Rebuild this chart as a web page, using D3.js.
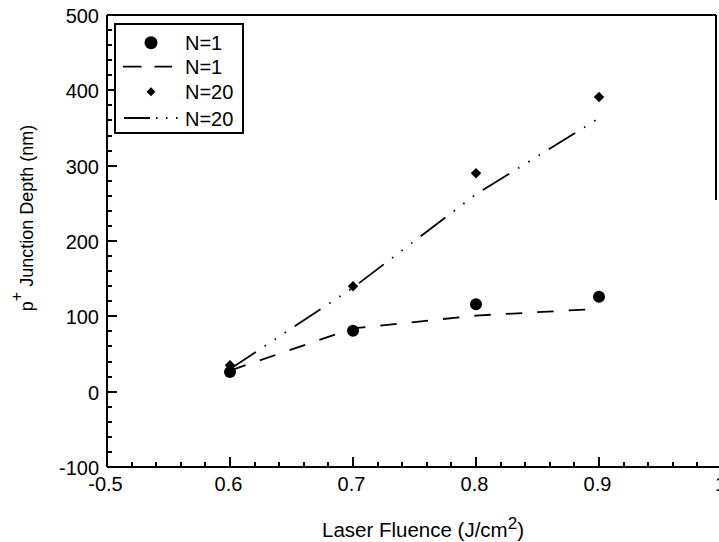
<!DOCTYPE html>
<html>
<head>
<meta charset="utf-8">
<script src="https://cdn.jsdelivr.net/npm/d3@7"></script>
<style>
  html, body { margin: 0; padding: 0; background: #fff; }
  svg { display: block; }
  text { font-family: "Liberation Sans", Arial, Helvetica, sans-serif; fill: #000; }
</style>
</head>
<body>
<svg id="chart" width="719" height="542"></svg>
<script>
// Laser fluence (J/cm^2) at which samples were measured
const fluence = [0.6, 0.7, 0.8, 0.9];
// Measured p+ junction depth (nm)
const depthN1 = [26, 81, 116, 126];
const depthN20 = [35, 140, 290, 391];
// Trend lines through each series (nm)
const fitN1 = [28, 84, 101, 110];
const fitN20 = [30, 138, 262, 363];

// Axis ticks and labels
const xTicks = [0.5, 0.6, 0.7, 0.8, 0.9, 1.0];
const xTickLabels = ["-0.5", "0.6", "0.7", "0.8", "0.9", "1"];
const xMinorTicks = d3.range(0, 26).map(i => 0.5 + i * 0.02);
const yTicks = [-100, 0, 100, 200, 300, 400, 500];
const yMinorTicks = d3.range(0, 31).map(i => -100 + i * 20);
const legendLabels = ["N=1", "N=1", "N=20", "N=20"];

const svg = d3.select("#chart");
const plot = { left: 107, top: 15, bottom: 467, right: 722 };

const x = d3.scaleLinear().domain([0.5, 1.0]).range([plot.left, plot.right]);
const y = d3.scaleLinear().domain([-100, 500]).range([plot.bottom, plot.top]);

const FONT = 20;
const dashN1 = "16.5,15";
const dashN20 = "31,10.5,1.5,10.5,1.5,10.5,1.5,10.5";

const frame = svg.append("g").attr("stroke", "#000").attr("fill", "none")
  .attr("stroke-width", 2).attr("shape-rendering", "crispEdges");

// Frame: top edge and the right edge
const rightEdge = Math.round(x(0.995));
frame.append("line")
  .attr("x1", plot.left).attr("x2", rightEdge)
  .attr("y1", plot.top).attr("y2", plot.top);
frame.append("line")
  .attr("x1", rightEdge).attr("x2", rightEdge)
  .attr("y1", plot.top).attr("y2", Math.round(y(255)));

// Axis lines
frame.append("line")
  .attr("x1", plot.left).attr("x2", plot.right)
  .attr("y1", plot.bottom).attr("y2", plot.bottom);
frame.append("line")
  .attr("x1", plot.left).attr("x2", plot.left)
  .attr("y1", plot.top).attr("y2", plot.bottom);

// Inward ticks on the x axis (minor every 0.02, major every 0.1)
const isMajorX = v => xTicks.some(t => Math.abs(t - v) < 1e-6);
frame.selectAll("line.xtick").data(xMinorTicks).enter().append("line")
  .attr("class", "xtick")
  .attr("x1", d => Math.round(x(d))).attr("x2", d => Math.round(x(d)))
  .attr("y1", plot.bottom).attr("y2", d => plot.bottom - (isMajorX(d) ? 10 : 5));

// Inward ticks on the y axis (minor every 20, major every 100)
const isMajorY = v => yTicks.some(t => Math.abs(t - v) < 1e-6);
frame.selectAll("line.ytick").data(yMinorTicks).enter().append("line")
  .attr("class", "ytick")
  .attr("x1", plot.left).attr("x2", d => plot.left + (isMajorY(d) ? 10 : 5))
  .attr("y1", d => Math.round(y(d))).attr("y2", d => Math.round(y(d)));

// Tick labels
svg.selectAll("text.xl").data(xTicks).enter().append("text")
  .attr("class", "xl")
  .attr("x", d => x(d) - 1.5).attr("y", plot.bottom + 23.5)
  .attr("text-anchor", "middle").attr("font-size", FONT)
  .text((d, i) => xTickLabels[i]);
svg.selectAll("text.yl").data(yTicks).enter().append("text")
  .attr("class", "yl")
  .attr("x", plot.left - 8).attr("y", d => y(d) + 8)
  .attr("text-anchor", "end").attr("font-size", FONT)
  .text(d => d);

// Trend lines
const lineGen = vals => d3.line().x((d, i) => x(fluence[i])).y(d => y(d))(vals);
svg.append("path").attr("d", lineGen(fitN1))
  .attr("fill", "none").attr("stroke", "#000").attr("stroke-width", 1.8)
  .attr("stroke-dasharray", dashN1);
svg.append("path").attr("d", lineGen(fitN20))
  .attr("fill", "none").attr("stroke", "#000").attr("stroke-width", 1.8)
  .attr("stroke-dasharray", dashN20);

// Data markers
const diamond = d3.symbol().type(d3.symbolDiamond2).size(70);
svg.selectAll("path.m20").data(depthN20).enter().append("path")
  .attr("class", "m20")
  .attr("transform", (d, i) => `translate(${x(fluence[i])},${y(d)})`)
  .attr("d", diamond).attr("fill", "#000");
svg.selectAll("circle.m1").data(depthN1).enter().append("circle")
  .attr("class", "m1")
  .attr("cx", (d, i) => x(fluence[i])).attr("cy", d => y(d))
  .attr("r", 6).attr("fill", "#000");

// Legend
const lg = svg.append("g");
lg.append("rect").attr("x", 115).attr("y", 24).attr("width", 128).attr("height", 109)
  .attr("fill", "#fff").attr("stroke", "#000").attr("stroke-width", 2)
  .attr("shape-rendering", "crispEdges");
const rows = [42.7, 66.7, 91.7, 118];
lg.append("circle").attr("cx", 151).attr("cy", rows[0]).attr("r", 6.5).attr("fill", "#000");
lg.append("line").attr("x1", 123).attr("x2", 172).attr("y1", rows[1]).attr("y2", rows[1])
  .attr("stroke", "#000").attr("stroke-width", 1.8).attr("stroke-dasharray", "18.5,13");
lg.append("path").attr("transform", `translate(151,${rows[2]})`)
  .attr("d", d3.symbol().type(d3.symbolDiamond2).size(50)).attr("fill", "#000");
lg.append("line").attr("x1", 124).attr("x2", 178).attr("y1", rows[3]).attr("y2", rows[3])
  .attr("stroke", "#000").attr("stroke-width", 1.8).attr("stroke-dasharray", "26,6,1.5,8.5,1.5,8.5,1.5,20");
lg.selectAll("text.lt").data(legendLabels).enter().append("text")
  .attr("class", "lt")
  .attr("x", 185).attr("y", (d, i) => rows[i] + 7.5)
  .attr("font-size", FONT).text(d => d);

// Axis titles
const xt = svg.append("text").attr("x", 423).attr("y", 537)
  .attr("text-anchor", "middle").attr("font-size", 20.5);
xt.append("tspan").text("Laser Fluence (J/cm");
xt.append("tspan").attr("dy", -8).attr("font-size", 17).text("2");
xt.append("tspan").attr("dy", 8).text(")");

const yt = svg.append("text").attr("transform", "translate(33,218) rotate(-90)")
  .attr("text-anchor", "middle").attr("font-size", 18);
yt.append("tspan").text("p");
yt.append("tspan").attr("dy", -11).attr("font-size", 16).text("+");
yt.append("tspan").attr("dy", 11).text(" Junction Depth (nm)");
</script>
</body>
</html>
